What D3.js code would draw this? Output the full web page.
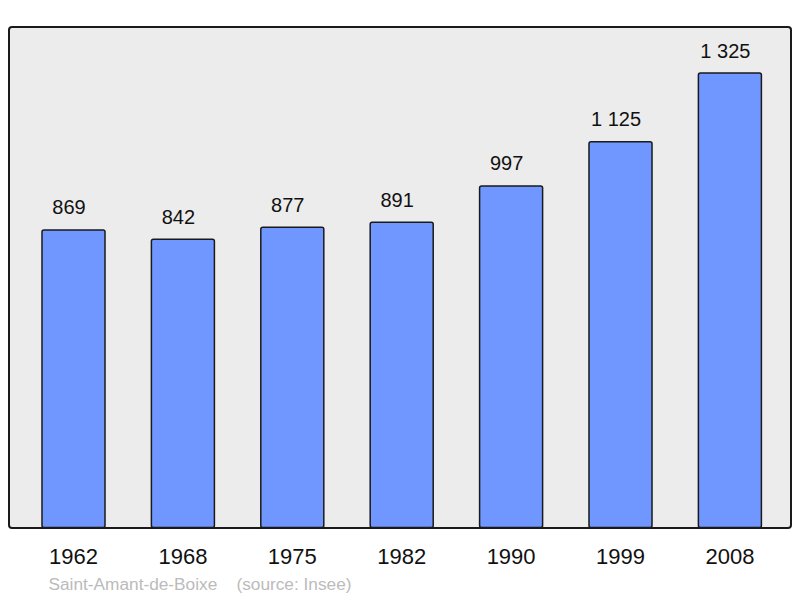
<!DOCTYPE html>
<html><head><meta charset="utf-8">
<script src="https://cdn.jsdelivr.net/npm/d3@7"></script>
<style>body{margin:0;background:#fff}svg{display:block}</style>
</head><body>
<script>
const years = ["1962","1968","1975","1982","1990","1999","2008"];
const population = [869, 842, 877, 891, 997, 1125, 1325];
const valueLabels = ["869","842","877","891","997","1 125","1 325"];
const caption = "Saint-Amant-de-Boixe    (source: Insee)";

const W = 800, H = 598;
const svg = d3.select("body").append("svg").attr("width", W).attr("height", H);
const font = "Liberation Sans, Arial, sans-serif";

svg.append("rect").attr("x", 9).attr("y", 27).attr("width", 782).attr("height", 501)
  .attr("rx", 3).attr("fill", "#ececec").attr("stroke", "#1a1a1a").attr("stroke-width", 2);

const x = d3.scaleBand().domain(years).range([18.8, 784.6]).paddingInner(0.424).paddingOuter(0.212);
const y = d3.scaleLinear().domain([0, 1325]).range([529, 73]);

const data = years.map((yr, i) => ({yr, v: population[i], lab: valueLabels[i]}));

svg.selectAll("rect.bar").data(data).enter().append("rect").attr("class", "bar")
  .attr("x", d => x(d.yr)).attr("y", d => y(d.v))
  .attr("width", x.bandwidth()).attr("height", d => 527.5 - y(d.v))
  .attr("rx", 2).attr("fill", "#7096ff").attr("stroke", "#1a1a1a").attr("stroke-width", 1.5);

svg.selectAll("text.val").data(data).enter().append("text").attr("class", "val")
  .attr("x", d => x(d.yr) + x.bandwidth() / 2 - 4.5).attr("y", d => y(d.v) - 15.5)
  .attr("text-anchor", "middle").attr("font-family", font).attr("font-size", 20)
  .attr("fill", "#111").text(d => d.lab);

const xAxis = d3.axisBottom(x).tickSize(0).tickPadding(0);
const gx = svg.append("g").attr("transform", "translate(0,564)").call(xAxis);
gx.select(".domain").remove();
gx.selectAll("text").attr("font-family", font).attr("font-size", 22).attr("fill", "#111")
  .attr("dy", 0).attr("y", 0);

svg.append("text").attr("x", 48.5).attr("y", 590).attr("font-family", font)
  .attr("font-size", 16).attr("fill", "#bbb").attr("xml:space", "preserve")
  .style("white-space", "pre").attr("textLength", 303).attr("lengthAdjust", "spacingAndGlyphs")
  .text(caption);
</script>
</body></html>
